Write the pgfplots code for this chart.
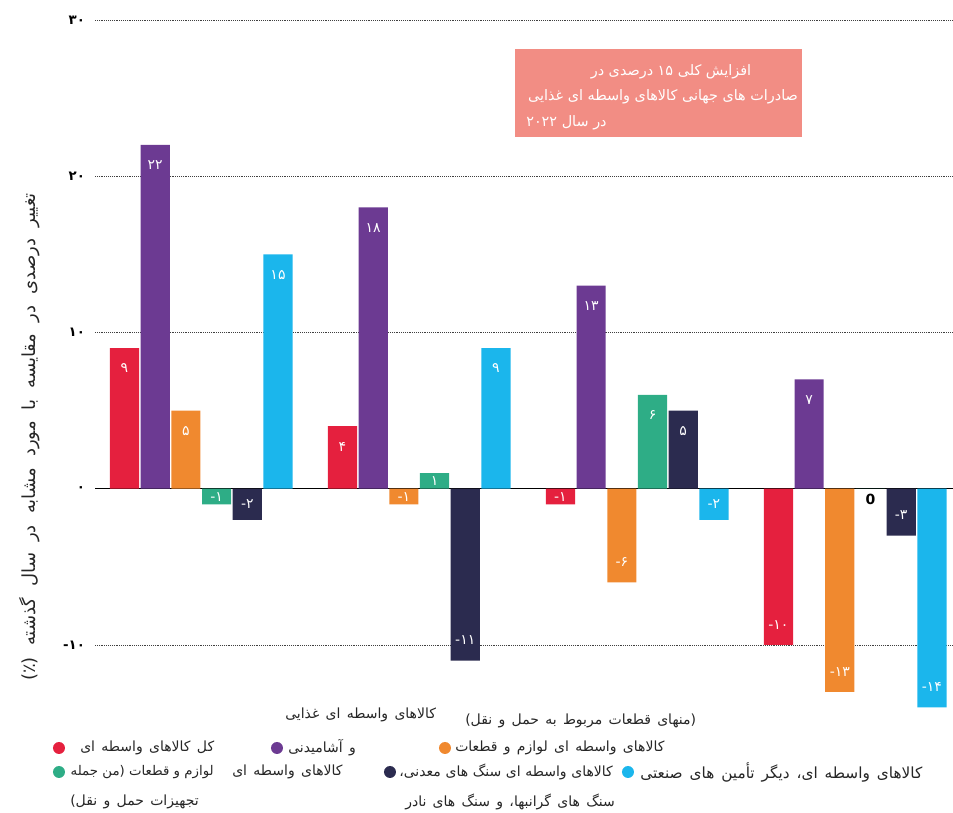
\documentclass[border=0pt]{standalone}
\usepackage{fontspec}
\usepackage{pgfplots}
\pgfplotsset{compat=1.18}
\TeXXeTstate=1
\setmainfont{DejaVu Sans}
\newfontfamily\fa[Script=Arabic]{DejaVu Sans}
\newcommand\rtl[1]{{\fa\beginR #1\endR}}
\newcommand\mn{{\rmfamily -}}
\definecolor{cRed}{HTML}{E5203E}
\definecolor{cPur}{HTML}{6C3A92}
\definecolor{cOra}{HTML}{F0892F}
\definecolor{cGre}{HTML}{2EAD86}
\definecolor{cNav}{HTML}{2B2B4F}
\definecolor{cCya}{HTML}{1BB6EC}
\definecolor{cBox}{HTML}{F28D84}
\pgfplotsset{
  barstyle/.style={ybar, bar width=0.95, bar shift=0pt, draw=none, forget plot,
    fill=#1,
    nodes near coords, point meta=explicit symbolic,
    nodes near coords align={anchor=center},
    visualization depends on={y \as \rawy},
    every node near coord/.append style={font=\fa\fontsize{10.5}{12}\selectfont, text=white, anchor=center,
      yshift={(\rawy>0 ? -min(\rawy/2,1.3) : (\rawy<0 ? min(abs(\rawy)/2,1.3) : -0.7))*11.71875pt}}},
}
\begin{document}
\begin{tikzpicture}
\begin{axis}[
  x=23.025pt, y=11.71875pt,
  xmin=-0.96, xmax=27, ymin=-15, ymax=30,
  enlargelimits=false, clip=false,
  axis line style={draw=none},
  xtick=\empty,
  ytick={-10,0,10,20,30},
  yticklabels={\mn{}۱۰,۰,۱۰,۲۰,۳۰},
  yticklabel style={font=\fa\bfseries\fontsize{10}{12}\selectfont, text=black, xshift=-4pt},
  major tick length=0pt,
  ymajorgrids, grid style={densely dotted, black!75, line width=0.6pt},
  extra y ticks={0}, extra y tick labels={},
  extra y tick style={grid style={solid, black, line width=0.8pt}},
  legend columns=5,
  legend style={at={(axis cs:-2.329,-16.208)}, anchor=north west, draw=none, fill=none,
    inner sep=0pt, outer sep=0pt, column sep=0pt, row sep=9pt,
    nodes={inner sep=0pt, outer sep=0pt, text depth=0pt}, cells={anchor=west}},
  legend image code/.code={\fill[#1, draw=none] (0pt,0pt) circle (4.5pt);},
]
\addplot[barstyle=cRed] coordinates {(0,9) [۹] (7.1,4) [۴] (14.2,-1) [\mn{}۱] (21.3,-10) [\mn{}۱۰]};
\addplot[barstyle=cPur] coordinates {(1,22) [۲۲] (8.1,18) [۱۸] (15.2,13) [۱۳] (22.3,7) [۷]};
\addplot[barstyle=cOra] coordinates {(2,5) [۵] (9.1,-1) [\mn{}۱] (16.2,-6) [\mn{}۶] (23.3,-13) [\mn{}۱۳]};
\addplot[barstyle=cGre] coordinates {(3,-1) [\mn{}۱] (10.1,1) [۱] (17.2,6) [۶] (24.3,0) [\textcolor{black}{\bfseries 0}]};
\addplot[barstyle=cNav] coordinates {(4,-2) [\mn{}۲] (11.1,-11) [\mn{}۱۱] (18.2,5) [۵] (25.3,-3) [\mn{}۳]};
\addplot[barstyle=cCya] coordinates {(5,15) [۱۵] (12.1,9) [۹] (19.2,-2) [\mn{}۲] (26.3,-14) [\mn{}۱۴]};
% legend keys (row 1: red, purple, -, orange, -; row 2: green, -, navy, -, cyan)
\addlegendimage{fill=cRed}\addlegendentry{\makebox[154.5pt]{}}
\addlegendimage{fill=cPur}\addlegendentry{\makebox[75.75pt]{}}
\addlegendimage{empty legend}\addlegendentry{\makebox[32.25pt]{}}
\addlegendimage{fill=cOra}\addlegendentry{\makebox[128.25pt]{}}
\addlegendimage{empty legend}\addlegendentry{\makebox[10pt]{}}
\addlegendimage{fill=cGre}\addlegendentry{\makebox[154.5pt]{}}
\addlegendimage{empty legend}\addlegendentry{\makebox[75.75pt]{}}
\addlegendimage{fill=cNav}\addlegendentry{\makebox[32.25pt]{}}
\addlegendimage{empty legend}\addlegendentry{\makebox[128.25pt]{}}
\addlegendimage{fill=cCya}\addlegendentry{\makebox[10pt]{}}
\coordinate (P0) at (axis cs:-4.0554,31.28);
\coordinate (P1) at (axis cs:26.987,-20.752);
\end{axis}
\pgfresetboundingbox
\path[use as bounding box] (P0) rectangle (P1);
\begin{scope}[shift={(P0)}, x=0.75pt, y=-0.75pt]
  \fill[cBox] (515,49) rectangle (802,137);
  \begin{scope}[every node/.style={text=white, font=\fa\fontsize{10.8}{12}\selectfont, inner sep=0pt}]
    \node at (671,72) {\rtl{افزایش کلی ۱۵ درصدی در}};
    \node at (663,97) {\rtl{صادرات های جهانی کالاهای واسطه ای غذایی}};
    \node[anchor=west] at (526,123) {\rtl{در سال ۲۰۲۲}};
  \end{scope}
  \node[rotate=90, font=\fa\fontsize{13.5}{15}\selectfont, text=black!85] at (30,437)
    {\spaceskip=0.62em\rtl{تغییر درصدی در مقایسه با مورد مشابه در سال گذشته (٪)}};
  \begin{scope}[every node/.style={text=black!85, font=\fa\fontsize{10.5}{12}\selectfont, inner sep=0pt, anchor=west}]
    \node at (80,748) {\spaceskip=0.45em\rtl{کل کالاهای واسطه ای}};
    \node at (285,715) {\spaceskip=0.45em\rtl{کالاهای واسطه ای غذایی}};
    \node at (288,748) {\spaceskip=0.45em\rtl{و آشامیدنی}};
    \node at (465,721) {\spaceskip=0.45em\rtl{(منهای قطعات مربوط به حمل و نقل)}};
    \node at (455,748) {\spaceskip=0.45em\rtl{کالاهای واسطه ای\ لوازم و قطعات}};
    \node[anchor=east, font=\fa\fontsize{10}{12}\selectfont] at (214,772) {\rtl{لوازم و قطعات (من جمله}};
    \node at (232,772) {\spaceskip=0.45em\rtl{کالاهای واسطه ای}};
    \node at (70,802) {\spaceskip=0.45em\rtl{تجهیزات حمل و نقل)}};
    \node at (399,772) {\spaceskip=0.33em\rtl{کالاهای واسطه ای سنگ های معدنی،}};
    \node at (405,802) {\spaceskip=0.45em\rtl{سنگ های گرانبها، و سنگ های نادر}};
    \node[font=\fa\fontsize{11.5}{13}\selectfont] at (640,772) {\spaceskip=0.45em\rtl{کالاهای واسطه ای، دیگر تأمین های صنعتی}};
  \end{scope}
\end{scope}
\end{tikzpicture}
\end{document}
